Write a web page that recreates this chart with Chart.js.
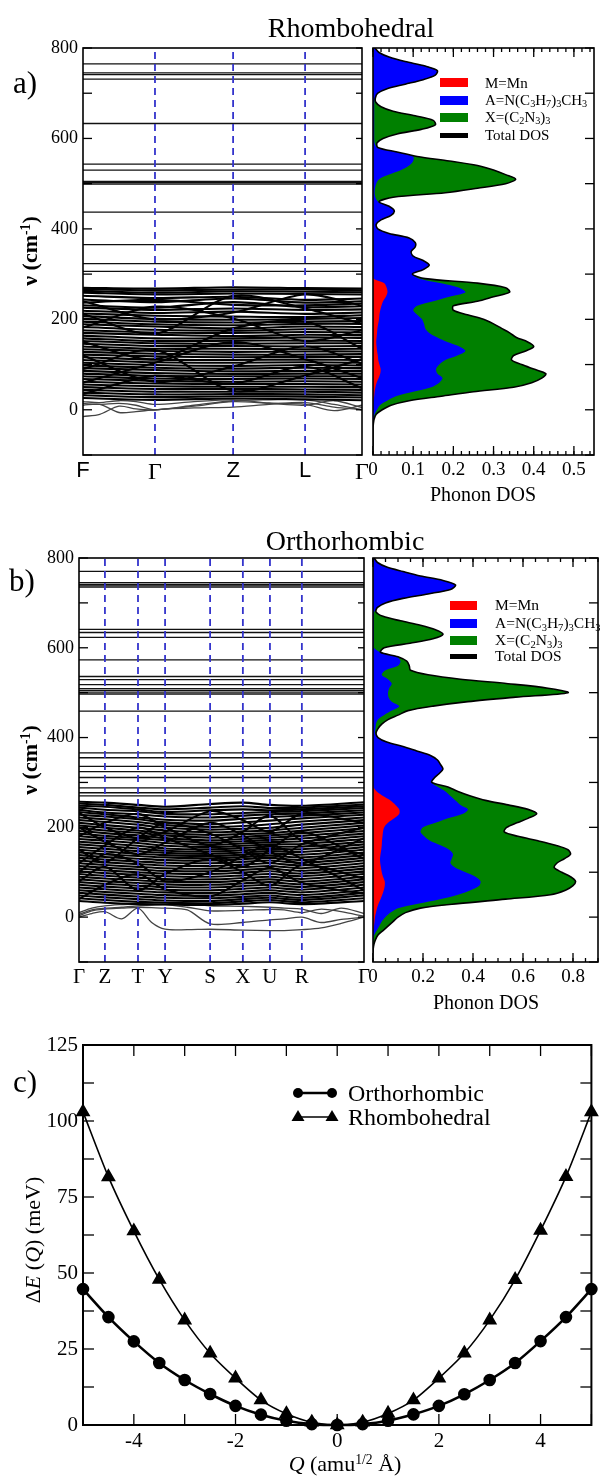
<!DOCTYPE html>
<html>
<head>
<meta charset="utf-8">
<script src="https://cdn.jsdelivr.net/npm/chart.js@4.4.1/dist/chart.umd.min.js"></script>
<style>
  html, body { margin: 0; padding: 0; background: #fff; }
  #page { position: relative; width: 600px; height: 1481px; overflow: hidden;
          font-family: 'Liberation Serif', 'Times New Roman', serif; color: #000; }
  canvas { position: absolute; }
  .txt { position: absolute; white-space: nowrap; line-height: 1; transform: translate(-50%, -50%); }
  .rot { transform: translate(-50%, -50%) rotate(-90deg); }
  .lt { position: absolute; white-space: nowrap; line-height: 1; transform: translate(0, -50%); }
  .sw { position: absolute; }
  sub { font-size: 68%; vertical-align: -0.25em; line-height: 0; }
  sup { font-size: 62%; vertical-align: 0.55em; line-height: 0; }
</style>
</head>
<body>
<div id="page">
  <canvas id="bandA" width="374" height="500" style="left:0;top:0"></canvas>
  <canvas id="dosA" width="234" height="500" style="left:366px;top:0"></canvas>
  <canvas id="bandB" width="376" height="497" style="left:0;top:510px"></canvas>
  <canvas id="dosB" width="234" height="497" style="left:366px;top:510px"></canvas>
  <canvas id="qChart" width="600" height="481" style="left:0;top:1000px"></canvas>

  <div class="txt" style="left:351px;top:28px;font-size:28px">Rhombohedral</div>
  <div class="txt" style="left:25px;top:82px;font-size:31px">a)</div>
  <div class="txt rot" style="left:30px;top:251px;font-size:22px;font-weight:bold">&nu; (cm<sup>-1</sup>)</div>
  <div class="txt" style="left:483px;top:494px;font-size:20px">Phonon DOS</div>

  <div class="txt" style="left:345px;top:541px;font-size:28px">Orthorhombic</div>
  <div class="txt" style="left:22px;top:580px;font-size:31px">b)</div>
  <div class="txt rot" style="left:30px;top:760px;font-size:22px;font-weight:bold">&nu; (cm<sup>-1</sup>)</div>
  <div class="txt" style="left:486px;top:1002px;font-size:20px">Phonon DOS</div>

  <div class="txt" style="left:25px;top:1081px;font-size:31px">c)</div>
  <div class="txt rot" style="left:33px;top:1240px;font-size:22px">&Delta;<i>E</i> (<i>Q</i>) (meV)</div>
  <div class="txt" style="left:345px;top:1464px;font-size:22px"><i>Q</i> (amu<sup>1/2</sup> Å)</div>

  <!-- DOS legend, panel a -->
  <div class="sw" style="left:440px;top:78px;width:28px;height:9px;background:#ff0000"></div>
  <div class="sw" style="left:440px;top:96px;width:28px;height:9px;background:#0000ff"></div>
  <div class="sw" style="left:440px;top:113px;width:28px;height:9px;background:#008000"></div>
  <div class="sw" style="left:440px;top:133px;width:28px;height:5px;background:#000"></div>
  <div class="lt" style="left:485px;top:83px;font-size:15px">M=Mn</div>
  <div class="lt" style="left:485px;top:100px;font-size:15px">A=N(C<sub>3</sub>H<sub>7</sub>)<sub>3</sub>CH<sub>3</sub></div>
  <div class="lt" style="left:485px;top:117px;font-size:15px">X=(C<sub>2</sub>N<sub>3</sub>)<sub>3</sub></div>
  <div class="lt" style="left:485px;top:135px;font-size:15px">Total DOS</div>

  <!-- DOS legend, panel b -->
  <div class="sw" style="left:450px;top:601px;width:27px;height:9px;background:#ff0000"></div>
  <div class="sw" style="left:450px;top:619px;width:27px;height:9px;background:#0000ff"></div>
  <div class="sw" style="left:450px;top:636px;width:27px;height:9px;background:#008000"></div>
  <div class="sw" style="left:450px;top:654px;width:27px;height:5px;background:#000"></div>
  <div class="lt" style="left:495px;top:605px;font-size:15.5px">M=Mn</div>
  <div class="lt" style="left:495px;top:623px;font-size:15.5px">A=N(C<sub>3</sub>H<sub>7</sub>)<sub>3</sub>CH<sub>3</sub></div>
  <div class="lt" style="left:495px;top:640px;font-size:15.5px">X=(C<sub>2</sub>N<sub>3</sub>)<sub>3</sub></div>
  <div class="lt" style="left:495px;top:656px;font-size:15.5px">Total DOS</div>

  <!-- legend, panel c -->
  <svg style="position:absolute;left:290px;top:1081px" width="52" height="48">
    <line x1="8" y1="12" x2="42" y2="12" stroke="#000" stroke-width="2.6"/>
    <circle cx="8" cy="12" r="5" fill="#000"/>
    <circle cx="42" cy="12" r="5" fill="#000"/>
    <line x1="8" y1="36" x2="42" y2="36" stroke="#000" stroke-width="1.6"/>
    <polygon points="8,29 14.5,40 1.5,40" fill="#000"/>
    <polygon points="42,29 48.5,40 35.5,40" fill="#000"/>
  </svg>
  <div class="lt" style="left:348px;top:1093px;font-size:24px">Orthorhombic</div>
  <div class="lt" style="left:348px;top:1117px;font-size:24px">Rhombohedral</div>
</div>

<script>
// ---------- data ----------
// high-symmetry points along the band path (fraction of path length)
const rhoK = [0, 0.258, 0.538, 0.796, 1];
const rhoKLabels = ['F', 'Γ', 'Z', 'L', 'Γ'];
const orthoK = [0, 0.091, 0.207, 0.302, 0.460, 0.575, 0.670, 0.782, 1];
const orthoKLabels = ['Γ', 'Z', 'T', 'Y', 'S', 'X', 'U', 'R', 'Γ'];

// flat optical branches (cm-1)
const rhoFlatBands = [765, 745, 741, 731, 633, 543, 530, 505, 502, 499, 437, 365, 323, 306];
const orthoFlatBands = [770, 745, 741, 738, 735, 641, 634, 623, 573, 536, 529, 518, 509, 505, 501, 497, 459, 366, 355, 336, 324, 311, 288, 277, 270];

// dispersive branches below ~270 cm-1, values at rhoK
const rhoBands = [
  [270, 268, 271, 269, 268], [267, 264, 266, 266, 264], [263, 259, 262, 261, 260], [259, 255, 257, 256, 255],
  [252, 247, 250, 243, 246], [244, 238, 246, 237, 240], [237, 243, 232, 231, 235], [231, 226, 238, 227, 229],
  [226, 221, 224, 221, 222], [219, 214, 217, 212, 215], [213, 208, 206, 205, 209], [207, 201, 199, 201, 203],
  [201, 195, 193, 195, 196], [195, 189, 187, 190, 190], [189, 184, 180, 184, 183], [183, 177, 175, 178, 177],
  [176, 171, 170, 172, 171], [170, 166, 163, 166, 165], [164, 158, 158, 160, 159], [158, 152, 153, 153, 152],
  [152, 147, 146, 147, 147], [146, 141, 141, 140, 141], [140, 135, 135, 134, 135], [134, 130, 128, 129, 129],
  [128, 124, 122, 122, 123], [122, 118, 116, 117, 117], [116, 111, 110, 111, 110], [110, 105, 104, 105, 104],
  [104, 99, 97, 99, 98], [98, 93, 91, 93, 92], [92, 88, 85, 86, 86], [86, 81, 79, 80, 80],
  [80, 75, 74, 74, 74], [74, 69, 68, 69, 68], [68, 64, 62, 63, 62], [62, 58, 57, 57, 56],
  [56, 52, 51, 51, 50], [50, 46, 46, 45, 44], [44, 40, 40, 40, 38], [38, 34, 35, 34, 32],
  [32, 28, 30, 29, 27], [26, 22, 25, 23, 21],
  [120, 62, 96, 140, 102], [182, 228, 202, 152, 176], [90, 132, 42, 76, 112], [212, 168, 252, 224, 190],
  [60, 104, 150, 112, 70], [150, 112, 180, 195, 135], [240, 200, 215, 255, 230], [35, 75, 58, 95, 48]
];
// acoustic / soft branches, sampled more finely
const rhoLowK = [0, 0.06, 0.129, 0.19, 0.258, 0.398, 0.538, 0.667, 0.796, 0.9, 1];
const rhoLowBands = [
  [-15, -10, 8, 2, 0, 8, 18, 14, 10, 20, 5],
  [10, 12, -6, -4, 0, 4, 6, 12, 16, 6, 0],
  [14, 12, 14, 10, 0, 10, 20, 22, 22, 12, 0],
  [18, 16, 20, 18, 12, 18, 22, 15, 12, -2, 10]
];

const orthoBands = [
  [257, 255, 250, 246, 252, 255, 250, 248, 256], [253, 250, 244, 240, 244, 247, 243, 244, 251],
  [248, 246, 240, 234, 238, 240, 238, 240, 247], [244, 239, 236, 230, 229, 232, 234, 236, 243],
  [239, 233, 229, 224, 222, 226, 229, 231, 238], [234, 229, 222, 217, 215, 219, 223, 226, 233],
  [228, 224, 218, 211, 207, 211, 215, 220, 228], [222, 218, 212, 205, 201, 203, 207, 213, 222],
  [216, 212, 206, 199, 195, 197, 199, 206, 216], [210, 205, 199, 193, 189, 191, 193, 199, 210],
  [204, 199, 193, 187, 183, 185, 187, 193, 204], [198, 193, 188, 182, 177, 179, 182, 187, 198],
  [192, 187, 182, 176, 171, 174, 177, 181, 192], [186, 181, 176, 171, 166, 169, 172, 175, 186],
  [180, 176, 171, 165, 161, 164, 167, 169, 180], [174, 170, 165, 159, 156, 159, 162, 163, 174],
  [168, 164, 159, 153, 151, 154, 157, 157, 168], [162, 158, 153, 148, 146, 149, 152, 151, 162],
  [156, 152, 147, 143, 141, 144, 147, 145, 156], [150, 146, 141, 138, 136, 139, 142, 139, 150],
  [144, 140, 136, 133, 131, 134, 137, 133, 144], [138, 134, 130, 127, 126, 129, 132, 127, 138],
  [132, 128, 124, 121, 120, 123, 126, 121, 132], [126, 122, 118, 115, 114, 117, 120, 115, 126],
  [120, 116, 112, 109, 108, 111, 114, 109, 120], [114, 110, 106, 103, 102, 105, 108, 103, 114],
  [108, 104, 100, 97, 96, 99, 102, 97, 108], [102, 98, 94, 91, 90, 93, 96, 91, 102],
  [96, 92, 88, 85, 84, 87, 90, 85, 96], [90, 86, 82, 79, 78, 81, 84, 79, 90],
  [84, 80, 76, 73, 72, 75, 78, 73, 84], [78, 74, 70, 67, 66, 69, 72, 67, 78],
  [72, 68, 64, 61, 60, 63, 66, 61, 72], [66, 62, 58, 55, 54, 57, 60, 55, 66],
  [60, 56, 52, 49, 48, 51, 54, 49, 60], [54, 50, 46, 43, 42, 45, 48, 43, 54],
  [48, 44, 40, 37, 36, 40, 43, 38, 48], [42, 38, 34, 32, 31, 35, 38, 33, 42],
  [36, 32, 29, 28, 27, 30, 33, 29, 36],
  [120, 160, 200, 176, 140, 112, 150, 190, 130], [200, 168, 140, 166, 210, 182, 146, 120, 176],
  [80, 112, 60, 96, 130, 100, 70, 116, 86], [150, 122, 176, 210, 186, 150, 120, 162, 200],
  [40, 72, 96, 62, 46, 82, 110, 76, 52], [232, 200, 176, 190, 236, 216, 190, 230, 210],
  [100, 140, 120, 80, 100, 136, 160, 130, 60], [180, 210, 230, 200, 160, 190, 226, 170, 140]
];
const orthoLowK = [0, 0.045, 0.091, 0.15, 0.207, 0.255, 0.302, 0.38, 0.46, 0.575, 0.67, 0.72, 0.782, 0.85, 0.92, 1];
const orthoLowBands = [
  [0, 8, 12, -4, 20, -12, -27, -28, -27, -29, -30, -30, -28, -24, -14, 0],
  [3, 14, 18, 20, 22, 21, 20, 16, -15, -12, -6, -4, 0, -12, -5, 0],
  [6, 16, 20, 22, 25, 27, 28, 22, 14, 15, 17, 16, 10, 18, 12, 2],
  [10, 20, 25, 28, 30, 32, 33, 30, 25, 24, 22, 20, 18, 8, 20, 8]
];

// phonon DOS: frequency grid (cm-1) and partial DOS
const dosFreq = [-80, -70, -60, -50, -40, -30, -20, -10,
  0, 10, 20, 30, 40, 50, 60, 70, 80, 90,
  100, 110, 120, 130, 140, 150, 160, 170, 180, 190,
  200, 210, 220, 230, 240, 250, 260, 270, 280, 290,
  300, 310, 320, 330, 340, 350, 360, 370, 380, 390,
  400, 410, 420, 430, 440, 450, 460, 470, 480, 490,
  500, 510, 520, 530, 540, 550, 560, 570, 580, 590,
  600, 610, 620, 630, 640, 650, 660, 670, 680, 690,
  700, 710, 720, 730, 740, 750, 760, 770, 780, 790,
  800];

const rhoDosMn = [0, 0, 0, 0, 0, 0, 0, 0,
  0, 0, 0.001, 0.003, 0.004, 0.006, 0.009, 0.014, 0.018, 0.019,
  0.016, 0.013, 0.012, 0.010, 0.009, 0.008, 0.009, 0.010, 0.011, 0.013,
  0.015, 0.016, 0.018, 0.021, 0.025, 0.032, 0.036, 0.034, 0.028, 0.002,
  0, 0, 0, 0, 0, 0, 0, 0, 0, 0,
  0, 0, 0, 0, 0, 0, 0, 0, 0, 0,
  0, 0, 0, 0, 0, 0, 0, 0, 0, 0,
  0, 0, 0, 0, 0, 0, 0, 0, 0, 0,
  0, 0, 0, 0, 0, 0, 0, 0, 0, 0,
  0];
const rhoDosA = [0, 0, 0, 0, 0, 0.001, 0.002, 0.004,
  0.010, 0.017, 0.034, 0.054, 0.096, 0.139, 0.156, 0.159, 0.142, 0.138,
  0.149, 0.167, 0.198, 0.220, 0.206, 0.177, 0.151, 0.130, 0.119, 0.114,
  0.107, 0.094, 0.082, 0.089, 0.125, 0.158, 0.194, 0.181, 0.142, 0.113,
  0.098, 0.125, 0.140, 0.125, 0.100, 0.095, 0.105, 0.105, 0.090, 0.040,
  0.012, 0.008, 0.020, 0.045, 0.053, 0.040, 0.013, 0.006, 0.004, 0.005,
  0.008, 0.015, 0.040, 0.070, 0.090, 0.100, 0.100, 0.060, 0.010, 0.004,
  0.003, 0.003, 0.003, 0.003, 0.003, 0.003, 0.003, 0.003, 0.003, 0.005,
  0.012, 0.035, 0.080, 0.125, 0.155, 0.160, 0.130, 0.080, 0.040, 0.015,
  0.005];
const rhoDosX = [0, 0, 0, 0, 0, 0, 0.001, 0.004,
  0.013, 0.028, 0.055, 0.113, 0.150, 0.205, 0.230, 0.247, 0.270, 0.243,
  0.205, 0.165, 0.140, 0.150, 0.185, 0.200, 0.197, 0.200, 0.190, 0.173,
  0.153, 0.125, 0.100, 0.090, 0.110, 0.110, 0.110, 0.115, 0.090, 0.015,
  0, 0, 0, 0, 0, 0, 0, 0, 0, 0,
  0, 0, 0, 0, 0, 0, 0.002, 0.044, 0.176, 0.255,
  0.322, 0.340, 0.290, 0.230, 0.170, 0.090, 0.010, 0, 0.002, 0.006,
  0.022, 0.057, 0.117, 0.152, 0.147, 0.102, 0.047, 0.017, 0.004, 0.001,
  0, 0, 0, 0, 0, 0, 0, 0, 0, 0,
  0];

const orthoDosMn = [0, 0, 0, 0, 0, 0.001, 0.004, 0.006,
  0.008, 0.012, 0.016, 0.022, 0.030, 0.037, 0.043, 0.047, 0.047, 0.040,
  0.035, 0.032, 0.029, 0.028, 0.030, 0.033, 0.035, 0.036, 0.038, 0.040,
  0.045, 0.060, 0.085, 0.105, 0.105, 0.090, 0.070, 0.040, 0.015, 0.002,
  0, 0, 0, 0, 0, 0, 0, 0, 0, 0,
  0, 0, 0, 0, 0, 0, 0, 0, 0, 0,
  0, 0, 0, 0, 0, 0, 0, 0, 0, 0,
  0, 0, 0, 0, 0, 0, 0, 0, 0, 0,
  0, 0, 0, 0, 0, 0, 0, 0, 0, 0,
  0];
const orthoDosA = [0, 0, 0, 0.001, 0.005, 0.014, 0.021, 0.029,
  0.042, 0.058, 0.084, 0.158, 0.238, 0.303, 0.347, 0.378, 0.383, 0.370,
  0.335, 0.298, 0.281, 0.287, 0.290, 0.272, 0.235, 0.192, 0.167, 0.150,
  0.155, 0.190, 0.215, 0.255, 0.275, 0.260, 0.260, 0.270, 0.275, 0.258,
  0.235, 0.245, 0.265, 0.280, 0.270, 0.258, 0.230, 0.175, 0.120, 0.055,
  0.020, 0.008, 0.010, 0.012, 0.020, 0.045, 0.075, 0.105, 0.075, 0.062,
  0.060, 0.065, 0.075, 0.060, 0.035, 0.050, 0.100, 0.110, 0.095, 0.030,
  0.003, 0.003, 0.003, 0.003, 0.003, 0.003, 0.003, 0.003, 0.005, 0.018,
  0.050, 0.120, 0.220, 0.310, 0.330, 0.280, 0.190, 0.120, 0.055, 0.018,
  0.005];
const orthoDosX = [0, 0.001, 0.004, 0.009, 0.015, 0.025, 0.035, 0.045,
  0.050, 0.060, 0.090, 0.160, 0.262, 0.370, 0.380, 0.375, 0.380, 0.380,
  0.385, 0.395, 0.425, 0.450, 0.470, 0.475, 0.460, 0.432, 0.375, 0.335,
  0.335, 0.325, 0.320, 0.295, 0.240, 0.190, 0.120, 0.080, 0.050, 0.040,
  0, 0, 0, 0, 0, 0, 0, 0, 0, 0,
  0, 0.004, 0.010, 0.023, 0.040, 0.055, 0.065, 0.135, 0.305, 0.508,
  0.720, 0.635, 0.465, 0.290, 0.185, 0.100, 0.045, 0.025, 0.005, 0,
  0.042, 0.145, 0.237, 0.277, 0.247, 0.187, 0.107, 0.037, 0.007, 0,
  0, 0, 0, 0, 0, 0, 0, 0, 0, 0,
  0];

// energy vs. distortion amplitude
const qValues = [-5, -4.5, -4, -3.5, -3, -2.5, -2, -1.5, -1, -0.5, 0, 0.5, 1, 1.5, 2, 2.5, 3, 3.5, 4, 4.5, 5];
const orthoEnergy = [44.7, 35.5, 27.5, 20.4, 14.8, 10.2, 6.3, 3.4, 1.4, 0.3, 0, 0.3, 1.4, 3.5, 6.3, 10.1, 14.8, 20.4, 27.6, 35.5, 44.7];
const rhoEnergy = [103, 81.6, 63.8, 47.9, 34.5, 23.6, 15.4, 8.2, 3.7, 0.9, 0, 0.9, 3.8, 8.2, 15.4, 23.6, 34.5, 47.8, 64.0, 81.7, 103];

// tick labels
const freqTickLabels = [0, 200, 400, 600, 800];
const rhoDosTicks = [0, 0.1, 0.2, 0.3, 0.4, 0.5];
const orthoDosTicks = [0, 0.2, 0.4, 0.6, 0.8];
const qTicks = [-4, -2, 0, 2, 4];
const energyTicks = [0, 25, 50, 75, 100, 125];

// ---------- helpers ----------
const serif = "'Liberation Serif', 'Times New Roman', serif";
const sans = "'Liberation Sans', Arial, sans-serif";
Chart.defaults.font.family = serif;
Chart.defaults.color = '#000';

const noGrid = {display: false, drawTicks: false};

function steps(min, max, step) {
  const out = [];
  for (let v = min; v <= max + 1e-9; v += step) out.push(Math.round(v * 1e6) / 1e6);
  return out;
}
function pts(xs, ys) { return xs.map((x, i) => ({x: x, y: ys[i]})); }
function dosPts(vals) { return dosFreq.map((f, i) => ({x: vals[i], y: f})); }

// frame plus inward tick marks, placed with the chart's own scales
function frameTicks(marks, frameWidth, under) {
  const draw = chart => {
    const {ctx, chartArea: a, scales} = chart;
    ctx.save();
    ctx.strokeStyle = '#000';
    ctx.lineWidth = 1.3;
    marks.forEach(m => {
      const s = scales[m.axis];
      m.values.forEach(v => {
        const p = s.getPixelForValue(v);
        ctx.beginPath();
        if (m.side === 'left') { ctx.moveTo(a.left, p); ctx.lineTo(a.left + m.len, p); }
        else if (m.side === 'right') { ctx.moveTo(a.right, p); ctx.lineTo(a.right - m.len, p); }
        else if (m.side === 'top') { ctx.moveTo(p, a.top); ctx.lineTo(p, a.top + m.len); }
        else { ctx.moveTo(p, a.bottom); ctx.lineTo(p, a.bottom - m.len); }
        ctx.stroke();
      });
    });
    ctx.lineWidth = frameWidth;
    ctx.strokeRect(a.left, a.top, a.right - a.left, a.bottom - a.top);
    ctx.restore();
  };
  return under ? {id: 'frameTicks', beforeDatasetsDraw: draw} : {id: 'frameTicks', afterDatasetsDraw: draw};
}

const freqTicks = steps(-100, 800, 100);

function bandChart(id, cfg) {
  const ds = [];
  cfg.k.slice(1, -1).forEach(k => ds.push({
    data: [{x: k, y: -100}, {x: k, y: 800}], borderColor: '#3434cc', borderWidth: 1.8,
    borderDash: [7, 5], tension: 0
  }));
  cfg.flat.forEach(f => ds.push({
    data: [{x: 0, y: f}, {x: 1, y: f}], borderColor: '#111', borderWidth: 1.3, tension: 0
  }));
  cfg.bands.forEach(b => ds.push({
    data: pts(cfg.k, b), borderColor: '#000', borderWidth: 2.1, tension: 0.3
  }));
  cfg.low.forEach(b => ds.push({
    data: pts(cfg.lowK, b), borderColor: '#444', borderWidth: 1.3, tension: 0.3
  }));

  new Chart(document.getElementById(id), {
    type: 'line',
    data: {datasets: ds},
    options: {
      responsive: false, animation: false, events: [],
      elements: {point: {radius: 0}},
      layout: {padding: {left: 0, top: 48, right: 12, bottom: 0}},
      plugins: {legend: {display: false}, tooltip: {enabled: false}},
      scales: {
        x: {
          type: 'linear', min: 0, max: 1,
          grid: noGrid, border: {display: false},
          afterBuildTicks: s => { s.ticks = cfg.k.map(v => ({value: v})); },
          afterFit: s => { s.height = 45; s.paddingLeft = 0; s.paddingRight = 0; },
          ticks: {
            autoSkip: false, maxRotation: 0, minRotation: 0, padding: 3,
            callback: (v, i) => cfg.labels[i],
            font: c => cfg.labelFont(cfg.labels[c.index])
          }
        },
        y: {
          type: 'linear', min: -100, max: 800,
          grid: noGrid, border: {display: false},
          afterBuildTicks: s => { s.ticks = freqTickLabels.map(v => ({value: v})); },
          afterFit: s => { s.width = cfg.yWidth; s.paddingTop = 0; s.paddingBottom = 0; },
          ticks: {autoSkip: false, padding: 5, font: {size: 18}, callback: v => String(v)}
        }
      }
    },
    plugins: [frameTicks([
      {axis: 'y', side: 'left', values: freqTicks, len: 9},
      {axis: 'y', side: 'right', values: freqTicks, len: 6}
    ], 1.6, false)]
  });
}

function dosChart(id, cfg) {
  const red = cfg.mn;
  const blue = cfg.mn.map((v, i) => v + cfg.a[i]);
  const total = blue.map((v, i) => v + cfg.x[i]);
  new Chart(document.getElementById(id), {
    type: 'line',
    data: {datasets: [
      {label: 'Total DOS', data: dosPts(total), borderColor: '#000', borderWidth: 1.6, fill: false, tension: 0.3},
      {label: 'M=Mn', data: dosPts(red), borderWidth: 0, backgroundColor: '#ff0000', fill: 'origin', tension: 0.3},
      {label: 'A', data: dosPts(blue), borderWidth: 0, backgroundColor: '#0000ff', fill: 'origin', tension: 0.3},
      {label: 'X', data: dosPts(total), borderWidth: 0, backgroundColor: '#008000', fill: 'origin', tension: 0.3}
    ]},
    options: {
      indexAxis: 'y',
      responsive: false, animation: false, events: [],
      elements: {point: {radius: 0}},
      layout: {padding: {left: 7, top: 48, right: cfg.padRight, bottom: 0}},
      plugins: {legend: {display: false}, tooltip: {enabled: false}},
      scales: {
        x: {
          type: 'linear', position: 'bottom', min: 0, max: cfg.max,
          grid: noGrid, border: {display: false},
          afterBuildTicks: s => { s.ticks = cfg.ticks.map(v => ({value: v})); },
          afterFit: s => { s.height = 45; s.paddingLeft = 0; s.paddingRight = 0; },
          ticks: {autoSkip: false, maxRotation: 0, padding: 4, font: {size: 19}, callback: v => String(v)}
        },
        y: {type: 'linear', min: -100, max: 800, display: false}
      }
    },
    plugins: [frameTicks([
      {axis: 'x', side: 'top', values: cfg.minor, len: 4},
      {axis: 'x', side: 'top', values: cfg.ticks, len: 9},
      {axis: 'x', side: 'bottom', values: cfg.minor, len: 4},
      {axis: 'x', side: 'bottom', values: cfg.ticks, len: 9},
      {axis: 'y', side: 'right', values: freqTicks, len: 9}
    ], 1.6, false)]
  });
}

// ---------- panels ----------
bandChart('bandA', {
  k: rhoK, labels: rhoKLabels, flat: rhoFlatBands, bands: rhoBands,
  lowK: rhoLowK, low: rhoLowBands, yWidth: 83,
  labelFont: l => (l === 'Γ' ? {family: serif, size: 24} : {family: sans, size: 22})
});
dosChart('dosA', {
  mn: rhoDosMn, a: rhoDosA, x: rhoDosX, max: 0.55, padRight: 6,
  ticks: rhoDosTicks, minor: steps(0, 0.54, 0.02)
});
bandChart('bandB', {
  k: orthoK, labels: orthoKLabels, flat: orthoFlatBands, bands: orthoBands,
  lowK: orthoLowK, low: orthoLowBands, yWidth: 79,
  labelFont: () => ({family: serif, size: 21})
});
dosChart('dosB', {
  mn: orthoDosMn, a: orthoDosA, x: orthoDosX, max: 0.9, padRight: 2,
  ticks: orthoDosTicks, minor: steps(0, 0.9, 0.05)
});

new Chart(document.getElementById('qChart'), {
  type: 'line',
  data: {datasets: [
    {label: 'Orthorhombic', data: pts(qValues, orthoEnergy), borderColor: '#000', backgroundColor: '#000',
     borderWidth: 2.6, pointStyle: 'circle', pointRadius: 5, tension: 0.25, clip: false},
    {label: 'Rhombohedral', data: pts(qValues, rhoEnergy), borderColor: '#000', backgroundColor: '#000',
     borderWidth: 1.6, pointStyle: 'triangle', pointRadius: 7, tension: 0.25, clip: false}
  ]},
  options: {
    responsive: false, animation: false, events: [],
    layout: {padding: {left: 0, top: 45, right: 8, bottom: 0}},
    plugins: {legend: {display: false}, tooltip: {enabled: false}},
    scales: {
      x: {
        type: 'linear', min: -5, max: 5,
        grid: noGrid, border: {display: false},
        afterBuildTicks: s => { s.ticks = qTicks.map(v => ({value: v})); },
        afterFit: s => { s.height = 56; s.paddingLeft = 0; s.paddingRight = 0; },
        ticks: {autoSkip: false, maxRotation: 0, padding: 4, font: {size: 21}, callback: v => String(v)}
      },
      y: {
        type: 'linear', min: 0, max: 125,
        grid: noGrid, border: {display: false},
        afterBuildTicks: s => { s.ticks = energyTicks.map(v => ({value: v})); },
        afterFit: s => { s.width = 83; s.paddingTop = 0; s.paddingBottom = 0; },
        ticks: {autoSkip: false, padding: 5, font: {size: 21}, callback: v => String(v)}
      }
    }
  },
  plugins: [frameTicks([
    {axis: 'x', side: 'top', values: steps(-5, 5, 1), len: 11},
    {axis: 'x', side: 'bottom', values: steps(-5, 5, 1), len: 11},
    {axis: 'y', side: 'left', values: steps(0, 125, 12.5), len: 11},
    {axis: 'y', side: 'right', values: steps(0, 125, 12.5), len: 11}
  ], 2, true)]
});
</script>
</body>
</html>
